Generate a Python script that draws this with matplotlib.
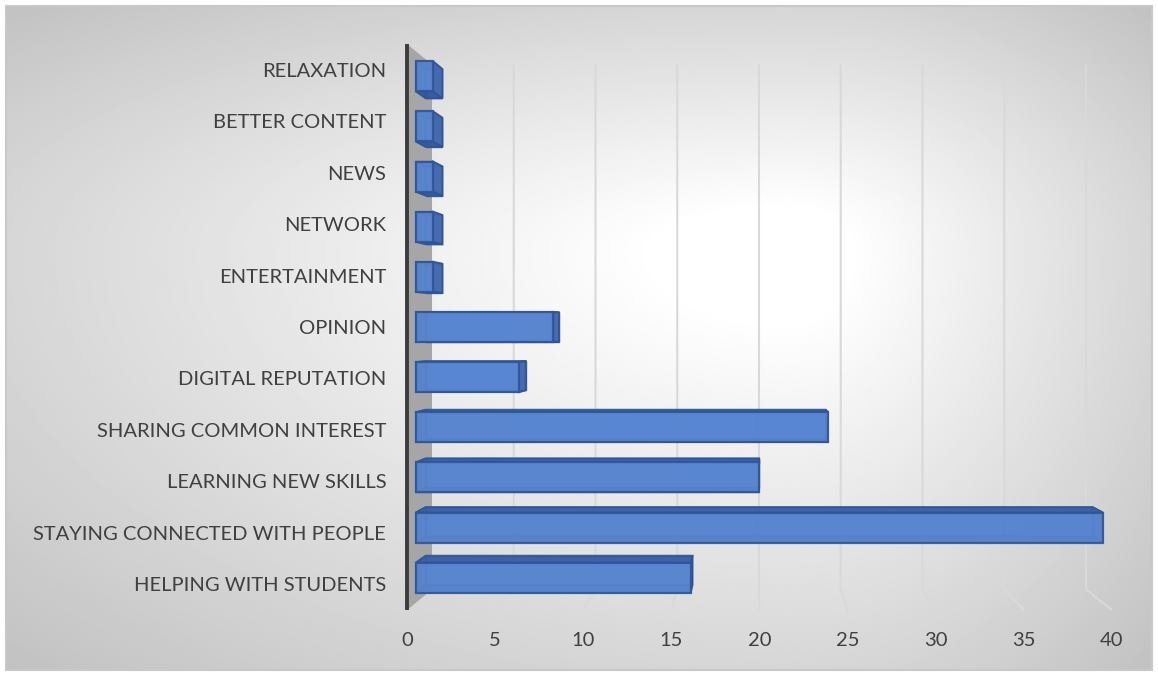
import numpy as np
import matplotlib
matplotlib.use("Agg")
import matplotlib.pyplot as plt
from matplotlib.patches import Polygon, Rectangle

# ---- data -------------------------------------------------------------
categories = [
    "HELPING WITH STUDENTS",
    "STAYING CONNECTED WITH PEOPLE",
    "LEARNING NEW SKILLS",
    "SHARING COMMON INTEREST",
    "DIGITAL REPUTATION",
    "OPINION",
    "ENTERTAINMENT",
    "NETWORK",
    "NEWS",
    "BETTER CONTENT",
    "RELAXATION",
]
values = [16, 40, 20, 24, 6, 8, 1, 1, 1, 1, 1]
x_ticks = [0, 5, 10, 15, 20, 25, 30, 35, 40]

plt.rcParams["font.family"] = ["Lato", "DejaVu Sans"]

W, H = 1158, 675
fig = plt.figure(figsize=(W / 100, H / 100), dpi=100)

# ---- chart-area background: shaded from a light centre to grey edges ---
bg = fig.add_axes([0, 0, 1, 1], zorder=0)
bg.set_xlim(0, W)
bg.set_ylim(H, 0)
bg.axis("off")
bx0, by0, bx1, by1 = 6, 6, 1152, 670
gx, gy = np.meshgrid(np.linspace(bx0, bx1, 480), np.linspace(by0, by1, 280))
cx, cy = 790, 250
u = np.where(gx < cx, (gx - cx) / (cx - bx0), (gx - cx) / (bx1 - cx))
v = np.where(gy < cy, (gy - cy) / (cy - by0), (gy - cy) / (by1 - cy))
r = np.sqrt(u ** 2 + v ** 2) / np.sqrt(2)
t = np.clip((r - 0.12) / 0.88, 0, 1)
shade = 1.0 - (1.0 - 0.76) * t
bg.imshow(shade, cmap="gray", vmin=0, vmax=1, extent=(bx0, bx1, by1, by0),
          interpolation="bilinear", aspect="auto")
bg.add_patch(Rectangle((bx0, by0), bx1 - bx0, by1 - by0, fill=False,
                       ec="#c8c8c8", lw=1.5))

# ---- plot axes (front plane of the 3-D box) ---------------------------
L, R, T, B = 407, 1112, 44, 610
ax = fig.add_axes([L / W, 1 - B / H, (R - L) / W, (B - T) / H], zorder=1)
ax.set_xlim(0, 40)
ax.set_ylim(-0.5, 10.5)
ax.patch.set_alpha(0)
for sp in ax.spines.values():
    sp.set_visible(False)

# perspective towards a vanishing point in data space
VPX, VPY, K = 19.6, 5.0, 0.0724
YLO, YHI = -0.5, 10.5


def proj(x, y, d):
    s = 1 - K * d
    return VPX + s * (x - VPX), VPY + s * (y - VPY)


def poly(pts, **kw):
    xy = [proj(*p) for p in pts]
    ax.add_patch(Polygon(xy, closed=True, clip_on=False, **kw))


# left side wall
poly([(0, YLO, 0), (0, YHI, 0), (0, YHI, 1), (0, YLO, 1)],
     facecolor="#a6a6a6", edgecolor="none", zorder=1)

# gridlines on the back wall and floor
for tv in x_ticks[1:]:
    pts = [proj(tv, YHI, 1), proj(tv, YLO, 1), proj(tv, YLO, 0)]
    ax.plot([p[0] for p in pts], [p[1] for p in pts], color="#d9d9d9",
            lw=1.5, solid_capstyle="butt", zorder=1.5, clip_on=False)

# axis line at the front edge of the side wall
ax.plot([0, 0], [YLO, YHI], color="#3c3c3c", lw=2.8, solid_capstyle="butt",
        zorder=2, clip_on=False)

# ---- 3-D bars ----------------------------------------------------------
D1, D2, HB = 0.35, 0.75, 0.3
edge = "#2f5597"
alpha = 0.88
for i, val in enumerate(values):
    lo, hi = i - HB, i + HB
    faces = {
        "back": [(0, lo, D2), (val, lo, D2), (val, hi, D2), (0, hi, D2)],
        "left": [(0, lo, D1), (0, hi, D1), (0, hi, D2), (0, lo, D2)],
        "right": [(val, lo, D1), (val, hi, D1), (val, hi, D2), (val, lo, D2)],
        "top": [(0, hi, D1), (val, hi, D1), (val, hi, D2), (0, hi, D2)],
        "bottom": [(0, lo, D1), (val, lo, D1), (val, lo, D2), (0, lo, D2)],
    }
    colors = {"back": "#4472c4", "left": "#4468ad", "right": "#4468ad",
              "top": "#3b5fa6", "bottom": "#34579c"}
    visible = []
    if hi < VPY:
        visible.append("top")
    if lo > VPY:
        visible.append("bottom")
    if val < VPX:
        visible.append("right")
    hidden = [k for k in ("left", "right", "top", "bottom") if k not in visible]
    z = 3
    poly(faces["back"], facecolor=colors["back"], edgecolor=edge, lw=1.0,
         alpha=alpha, zorder=z)
    for k in hidden:
        z += 0.01
        poly(faces[k], facecolor=colors[k], edgecolor=edge, lw=1.0,
             alpha=alpha, zorder=z)
    for k in visible:
        z += 0.01
        poly(faces[k], facecolor=colors[k], edgecolor=edge, lw=1.4,
             alpha=alpha, zorder=z)
    # front face
    fx0, fy0 = proj(0, lo, D1)
    fx1, fy1 = proj(val, hi, D1)
    ax.barh(0.5 * (fy0 + fy1), fx1 - fx0, height=fy1 - fy0, left=fx0,
            color="#5a87d1", edgecolor=edge, lw=1.6, alpha=alpha,
            zorder=z + 0.1, clip_on=False)

# ---- ticks and labels ---------------------------------------------------
ax.set_yticks(range(len(categories)))
ax.set_yticklabels(categories)
ax.set_xticks(x_ticks)
ax.set_xticklabels([str(x) for x in x_ticks])
ax.tick_params(axis="both", length=0, labelsize=14.5, labelcolor="#404040")
ax.tick_params(axis="y", pad=15)
ax.tick_params(axis="x", pad=16)

fig.savefig("out.png", dpi=100)
